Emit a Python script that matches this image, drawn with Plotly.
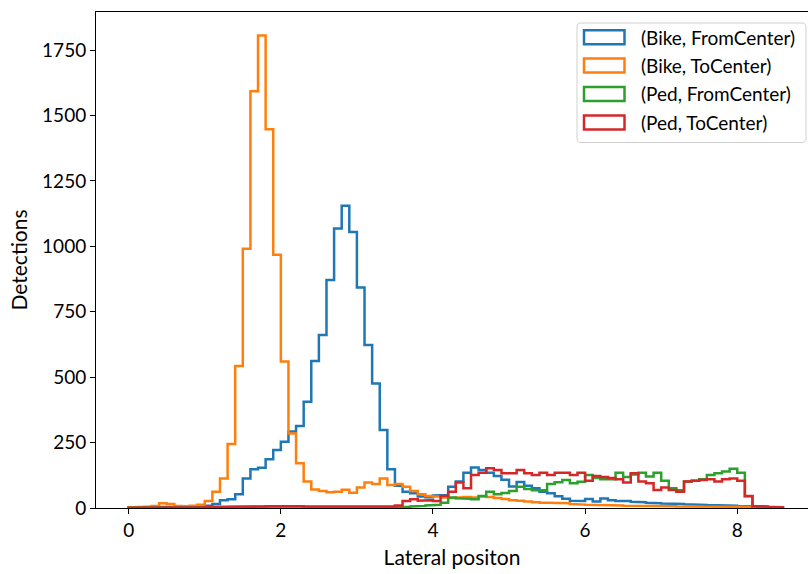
import numpy as np
import plotly.graph_objects as go

# ---- data ----
bin_width = 0.1
n_bins = 86
bin_edges = np.round(np.arange(n_bins + 1) * bin_width, 2)

series_names = ["(Bike, FromCenter)", "(Bike, ToCenter)", "(Ped, FromCenter)", "(Ped, ToCenter)"]
series_colors = ["#1f77b4", "#ff7f0e", "#2ca02c", "#d62728"]

bike_from = [2, 3, 3, 4, 4, 5, 5, 5, 6, 7,
             9, 15, 30, 33, 53, 113, 148, 154, 186, 222,
             253, 292, 313, 406, 562, 661, 871, 1068, 1155, 1055,
             843, 623, 476, 298, 148, 85, 62, 56, 44, 41,
             48, 50, 81, 101, 135, 155, 145, 135, 122, 108,
             82, 99, 85, 75, 62, 56, 45, 35, 28, 27,
             34, 25, 36, 30, 27, 27, 24, 22, 20, 18,
             17, 16, 15, 14, 13, 12, 11, 10, 10, 9,
             8, 7, 6, 5, 4, 3]

bike_to = [3, 4, 5, 8, 18, 15, 8, 7, 9, 12,
           27, 62, 113, 245, 543, 991, 1592, 1805, 1447, 968,
           560, 285, 171, 101, 71, 65, 60, 62, 70, 58,
           78, 97, 92, 113, 88, 92, 81, 65, 53, 46,
           44, 40, 38, 40, 42, 40, 44, 42, 38, 34,
           30, 28, 25, 22, 20, 20, 20, 18, 15, 13,
           12, 12, 11, 10, 10, 9, 9, 8, 8, 7,
           7, 7, 6, 6, 6, 6, 6, 6, 6, 5,
           5, 5, 4, 4, 3, 3]

ped_from = [1, 1, 1, 2, 2, 2, 2, 2, 3, 3,
            3, 3, 3, 4, 4, 4, 5, 5, 6, 7,
            8, 7, 6, 5, 4, 4, 3, 3, 3, 3,
            3, 3, 3, 3, 3, 3, 4, 6, 8, 10,
            12, 20, 40, 37, 35, 33, 46, 62, 53, 57,
            65, 81, 73, 68, 68, 92, 98, 107, 95, 100,
            126, 115, 110, 110, 135, 118, 128, 135, 120, 135,
            104, 75, 68, 101, 104, 110, 126, 133, 139, 150,
            135, 45, 3, 2, 1, 1]

ped_to = [1, 1, 1, 2, 2, 2, 2, 3, 3, 3,
          4, 4, 4, 5, 5, 5, 6, 6, 7, 8,
          9, 8, 7, 6, 5, 5, 5, 5, 5, 5,
          4, 4, 5, 5, 6, 10, 27, 33, 28, 30,
          27, 46, 62, 97, 75, 126, 135, 152, 145, 133,
          133, 145, 133, 126, 135, 126, 135, 135, 126, 135,
          104, 122, 118, 115, 110, 97, 133, 101, 95, 69,
          78, 69, 62, 101, 104, 107, 110, 101, 110, 113,
          104, 46, 8, 6, 4, 3]

series_counts = [bike_from, bike_to, ped_from, ped_to]

x_ticks = [0, 2, 4, 6, 8]
y_ticks = [0, 250, 500, 750, 1000, 1250, 1500, 1750]

# ---- figure ----
W, H = 808, 574
ML, MR, MT, MB = 96, 0, 12, 66
PW, PH = W - ML - MR, H - MT - MB

FONT = "Lato"
TICK_SIZE = 19
TITLE_SIZE = 21
LEG_SIZE = 19
LW = 2.5

fig = go.Figure()


def step_outline(edges, counts):
    counts = np.asarray(counts, dtype=float)
    xs = np.repeat(edges, 2)
    ys = np.concatenate([[0.0], np.repeat(counts, 2), [0.0]])
    return xs, ys


for name, color, counts in zip(series_names, series_colors, series_counts):
    xs, ys = step_outline(bin_edges, counts)
    fig.add_trace(go.Scatter(x=xs, y=ys, mode="lines", name=name,
                             line=dict(color=color, width=LW),
                             showlegend=False, hoverinfo="skip"))

xmax_data = float(bin_edges[-1])
ymax_data = float(max(max(c) for c in series_counts))
x_lo = -0.05 * xmax_data
x_hi = 8.93
y_hi = ymax_data * 1.05

fig.update_layout(
    width=W, height=H,
    margin=dict(l=ML, r=MR, t=MT, b=MB, autoexpand=False),
    paper_bgcolor="white", plot_bgcolor="white",
    font=dict(family=FONT, color="black", size=TICK_SIZE),
    xaxis=dict(range=[x_lo, x_hi], tickvals=x_ticks, ticktext=[str(v) for v in x_ticks],
               showgrid=False, zeroline=False, showline=True, linecolor="black", linewidth=1,
               mirror=True, ticks="outside", ticklen=5, tickwidth=1, tickcolor="black",
               tickfont=dict(family=FONT, size=TICK_SIZE), automargin=False,
               title=dict(text="Lateral positon", font=dict(family=FONT, size=TITLE_SIZE), standoff=10)),
    yaxis=dict(range=[0, y_hi], tickvals=y_ticks, ticktext=[str(v) for v in y_ticks],
               showgrid=False, zeroline=False, showline=True, linecolor="black", linewidth=1,
               mirror=False, ticks="outside", ticklen=5, tickwidth=1, tickcolor="black",
               tickfont=dict(family=FONT, size=TICK_SIZE), automargin=False,
               title=dict(text="Detections", font=dict(family=FONT, size=TITLE_SIZE), standoff=8)),
)


def px2paper(px, py):
    return (px - ML) / PW, (H - MB - py) / PH


def rounded_rect(x0, y0, x1, y1, r):
    def P(px, py):
        a, b = px2paper(px, py)
        return f"{a:.5f},{b:.5f}"
    return (f"M {P(x0 + r, y0)} L {P(x1 - r, y0)} Q {P(x1, y0)} {P(x1, y0 + r)} "
            f"L {P(x1, y1 - r)} Q {P(x1, y1)} {P(x1 - r, y1)} "
            f"L {P(x0 + r, y1)} Q {P(x0, y1)} {P(x0, y1 - r)} "
            f"L {P(x0, y0 + r)} Q {P(x0, y0)} {P(x0 + r, y0)} Z")


shapes = [dict(type="path", xref="paper", yref="paper",
               path=rounded_rect(577, 23, 806, 142.5, 4),
               line=dict(color="#d0d0d0", width=1), fillcolor="rgba(255,255,255,0.8)",
               layer="above")]
annotations = []
row_y = [37.2, 65.6, 94.0, 122.4]
for name, color, cy in zip(series_names, series_colors, row_y):
    xa, ya = px2paper(584, cy - 7)
    xb, yb = px2paper(624.5, cy + 7)
    shapes.append(dict(type="rect", xref="paper", yref="paper", x0=xa, x1=xb, y0=yb, y1=ya,
                       line=dict(color=color, width=LW), fillcolor="rgba(0,0,0,0)", layer="above"))
    tx, ty = px2paper(639, cy)
    annotations.append(dict(xref="paper", yref="paper", x=tx, y=ty, text=name, showarrow=False,
                            xanchor="left", yanchor="middle",
                            font=dict(family=FONT, size=LEG_SIZE, color="black")))

fig.update_layout(shapes=shapes, annotations=annotations)

fig.write_html("out.html", config={"displayModeBar": False},
               post_script="document.body.style.margin='0px';")
